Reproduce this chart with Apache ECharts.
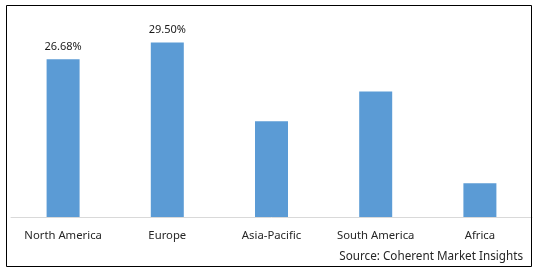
<!DOCTYPE html>
<html>
<head>
<meta charset="utf-8">
<script src="https://cdn.jsdelivr.net/npm/echarts@6/dist/echarts.min.js"></script>
<style>
html,body{margin:0;padding:0;background:#fff;}
#c{width:538px;height:272px;}
</style>
</head>
<body>
<div id="c"></div>
<script>
const categories = ['North America', 'Europe', 'Asia-Pacific', 'South America', 'Africa'];
const values = [26.68, 29.50, 16.2, 21.2, 5.7];
const labelText = ['26.68%', '29.50%', '', '', ''];
const sourceText = 'Source: Coherent Market Insights';

const font = '"Noto Sans", "Open Sans", sans-serif';
const chart = echarts.init(document.getElementById('c'), null, {renderer: 'canvas'});
chart.setOption({
  animation: false,
  backgroundColor: '#fff',
  grid: {left: 11, right: 6, top: 10, bottom: 55, containLabel: false},
  xAxis: {
    type: 'category',
    data: categories,
    axisLine: {lineStyle: {color: '#d9d9d9', width: 1}},
    axisTick: {show: false},
    axisLabel: {color: '#262626', fontFamily: font, fontSize: 11.3, margin: 13, interval: 0}
  },
  yAxis: {
    type: 'value', min: 0, max: 35,
    show: false, splitLine: {show: false}
  },
  series: [{
    type: 'bar',
    barWidth: 33,
    itemStyle: {color: '#5b9bd5'},
    data: values.map((v, i) => ({
      value: v,
      label: {
        show: labelText[i] !== '',
        position: 'top',
        distance: 7,
        formatter: labelText[i],
        color: '#1a1a1a',
        fontFamily: font,
        fontSize: 11
      }
    }))
  }],
  graphic: [
    {type: 'rect', shape: {x: 6.5, y: 5.5, width: 525, height: 261}, style: {fill: 'none', stroke: '#000', lineWidth: 1}, silent: true, z: 100},
    {type: 'text', right: 15, top: 251, style: {text: sourceText, fill: '#262626', font: '11.7px ' + font}}
  ]
});
</script>
</body>
</html>
